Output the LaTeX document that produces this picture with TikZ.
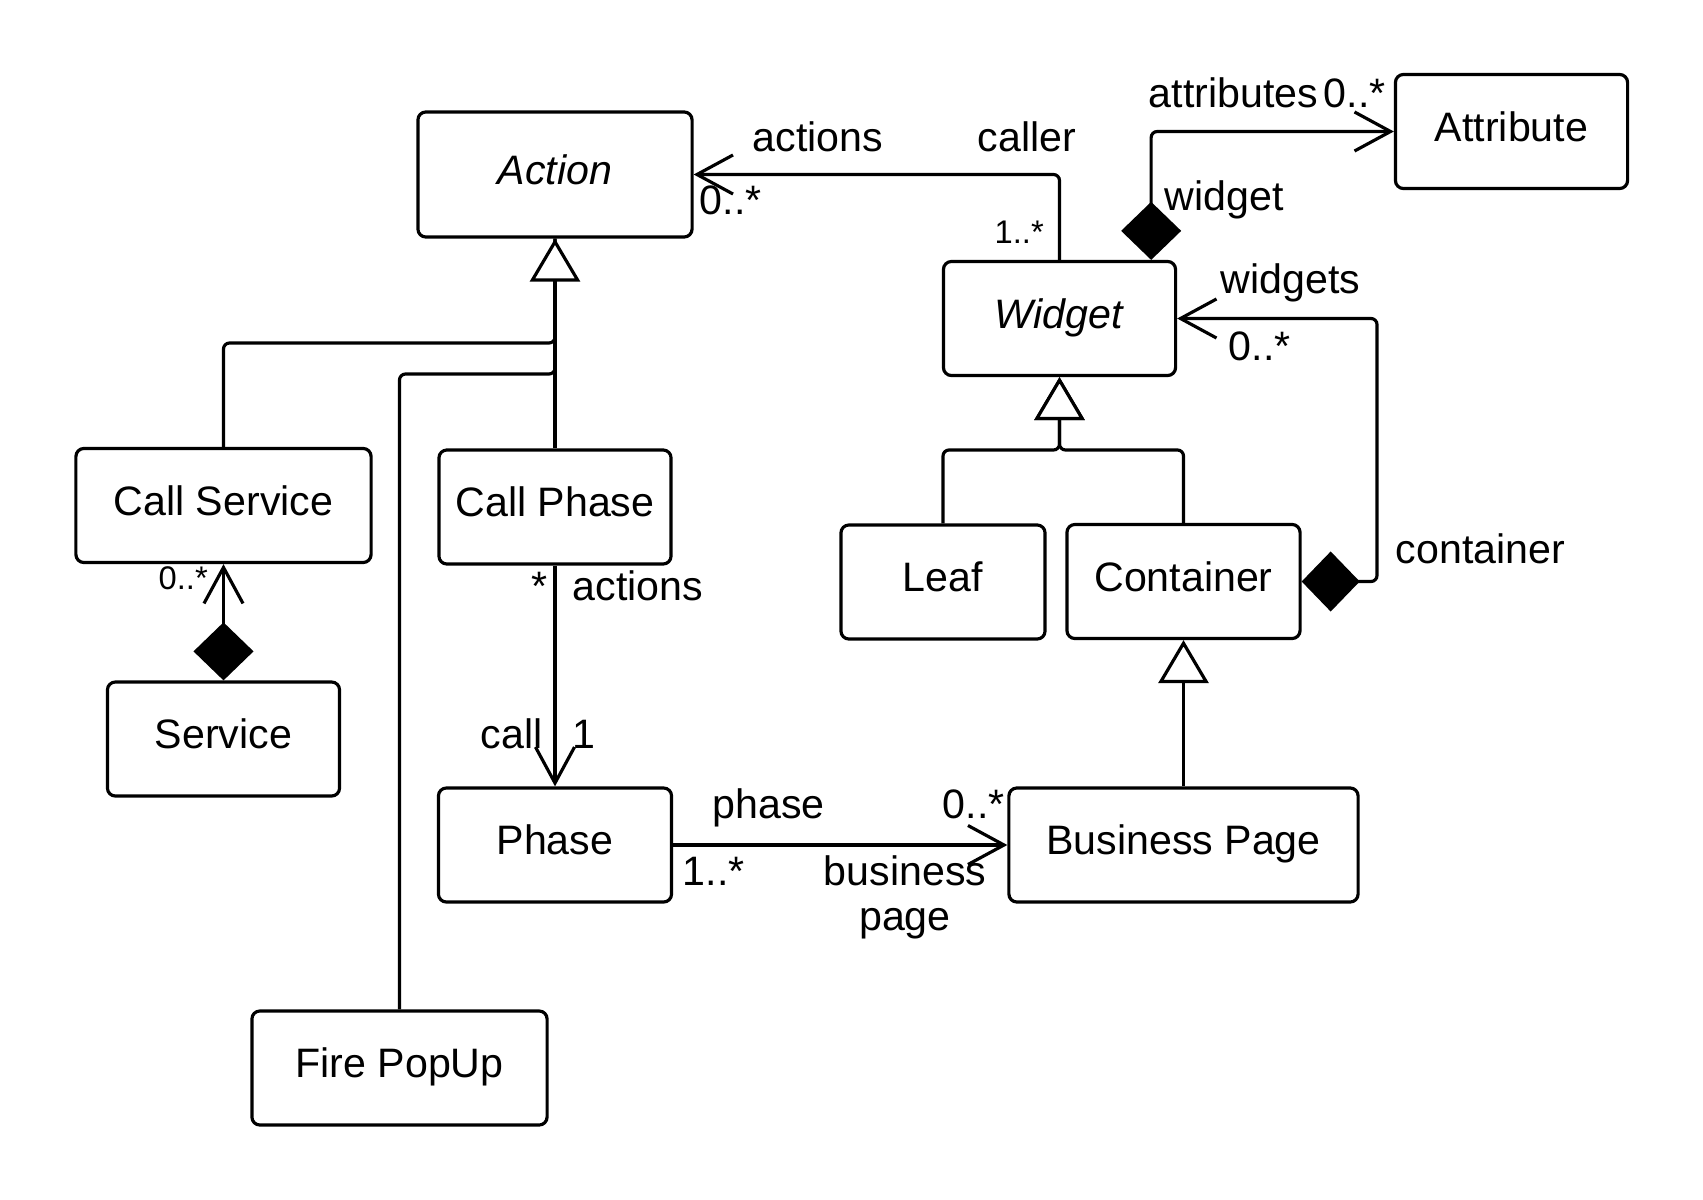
\documentclass[tikz,border=0pt]{standalone}
\usepackage{fontspec}
\setmainfont{Liberation Sans}
\usetikzlibrary{arrows.meta,calc}
\tikzset{
  cls/.style={draw, line width=0.9pt, rounded corners=0.08cm, minimum width=2.32cm,
    minimum height=1.14cm, inner sep=0pt, text height=0.3cm, text depth=0.11cm,
    font=\fontsize{11.7}{14}\selectfont},
  conn/.style={line width=0.9pt, rounded corners=0.06cm},
  gen/.style={conn, -{Triangle[length=0.43cm, width=0.5cm, fill=white]}},
  assoc/.style={conn, -{Straight Barb[length=0.36cm, width=0.39cm]}},
  comp/.style={conn, {Diamond[length=0.58cm, width=0.6cm]}-{Straight Barb[length=0.36cm, width=0.39cm]}},
  lbl/.style={anchor=base west, inner sep=0pt, font=\fontsize{11.7}{12.8}\selectfont},
  mult/.style={lbl, font=\fontsize{9.3}{11}\selectfont}
}
\begin{document}
\begin{tikzpicture}[x=0.01cm, y=-0.01cm]
\useasboundingbox (0,0) rectangle (1703,1200);
% classes
\node[cls, minimum width=2.74cm, minimum height=1.25cm] (action) at (555,174.5) {\textit{Action}};
\node[cls, minimum width=2.95cm] (callservice) at (223.5,505.5) {Call Service};
\node[cls] (callphase) at (555,507) {Call Phase};
\node[cls] (service) at (223.5,739) {Service};
\node[cls, minimum width=2.33cm] (phase) at (555,845) {Phase};
\node[cls, minimum width=2.95cm] (firepopup) at (399.5,1068) {Fire PopUp};
\node[cls] (widget) at (1059.5,318.5) {\textit{Widget}};
\node[cls] (attribute) at (1511.5,131.5) {Attribute};
\node[cls, minimum width=2.04cm] (leaf) at (943,582) {Leaf};
\node[cls, minimum width=2.33cm] (container) at (1183.5,581.5) {Container};
\node[cls, minimum width=3.49cm] (businesspage) at (1183.5,845) {Business Page};

\coordinate (ja1) at (555,343);
\coordinate (ja2) at (555,374);
\coordinate (jw) at (1059.5,450);
\coordinate (jc) at (1377,450);

% generalizations
\foreach \c/\j in {callservice/ja1, firepopup/ja2}
  \draw[conn] (\c.north) |- (\j) -- (action.south);
\draw[gen] (callphase.north) -- (action.south);
\foreach \c in {leaf, container}
  \draw[gen] (\c.north) |- (jw) -- (widget.south);
\draw[gen] (businesspage.north) -- (container.south);

% associations
\draw[assoc] (widget.north) |- (action.east);
\draw[comp] ($(widget.north east)+(-26,0)$) |- (attribute.west);
\draw[comp] (container.east) -| (jc) |- (widget.east);
\draw[comp] (service.north) -- (callservice.south);
\draw[assoc] (callphase.south) -- (phase.north);
\draw[assoc] (phase.east) -- (businesspage.west);

% roles and multiplicities
\node[lbl] (lactions) at (752,151) {actions};
\node[lbl] (lcaller) at (977,151) {caller};
\node[lbl] (mactions) at (699,214) {0..*};
\node[mult] (mcaller) at (994,243) {1..*};
\node[lbl] (lattributes) at (1148,107) {attributes};
\node[lbl] (mattributes) at (1323,107) {0..*};
\node[lbl] (lwidget) at (1164,210) {widget};
\node[lbl] (lwidgets) at (1220,293) {widgets};
\node[lbl] (mwidgets) at (1228,360) {0..*};
\node[lbl] (lcontainer) at (1395,563) {container};
\node[mult] (mservice) at (158,589) {0..*};
\node[lbl] (mcall) at (531,600) {*};
\node[lbl] (lcallactions) at (572,600) {actions};
\node[lbl] (lcall) at (480,748) {call};
\node[lbl] (mphase) at (572,748) {1};
\node[lbl] (lphase) at (712,818) {phase};
\node[lbl] (mpage) at (942,818) {0..*};
\node[lbl] (mphases) at (682,885) {1..*};
\node[lbl, anchor=base, align=center] (lpage) at (905,930) {business\\page};
\end{tikzpicture}
\end{document}
